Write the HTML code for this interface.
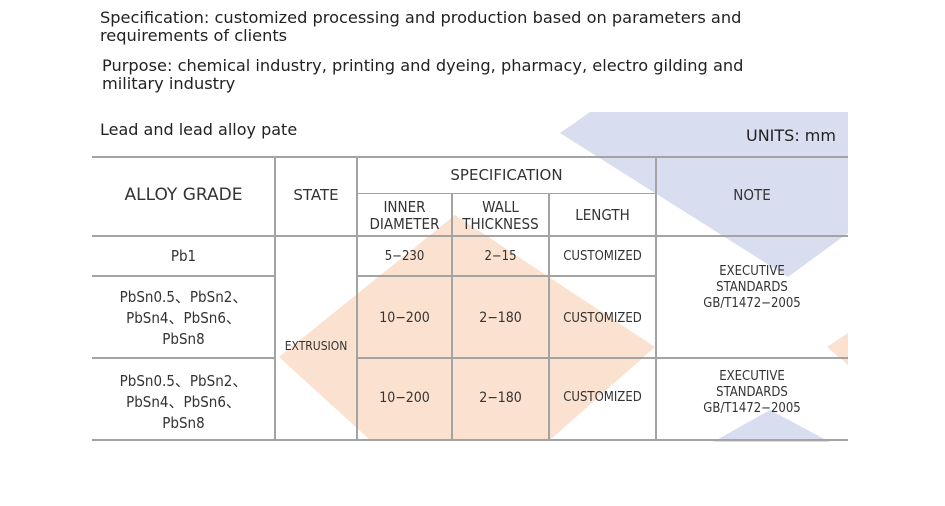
<!DOCTYPE html>
<html><head><style>
body{margin:0;width:945px;height:506px;background:#fff;overflow:hidden;position:relative;font-family:"Liberation Sans","DejaVu Sans",sans-serif;color:#222}
.t{position:absolute;white-space:nowrap}
.c{position:absolute;text-align:center;font-size:13px;line-height:17px;color:#333;font-family:"DejaVu Sans Condensed","Liberation Sans",sans-serif}
.hl{position:absolute;height:2px;background:#a3a3a3}
.vl{position:absolute;width:2px;background:#a3a3a3}
</style></head><body>
<svg width="945" height="506" style="position:absolute;left:0;top:0">
<polygon points="590,112 848,112 848,233 788,277 560,133" fill="#d8ddef"/>
<polygon points="713,442 830,442 770,410" fill="#d8ddef"/>
<polygon points="455,215 655,347 550,440 370,440 279,357" fill="#fbe1cf"/>
<polygon points="848,333 827,347 848,365" fill="#fbe1cf"/>
</svg>
<div class="t" style="left:100px;top:9px;font-size:16.2px;line-height:18px;font-family:'DejaVu Sans',sans-serif">Specification: customized processing and production based on parameters and<br>requirements of clients</div>
<div class="t" style="left:102px;top:57px;font-size:16.2px;line-height:18px;font-family:'DejaVu Sans',sans-serif">Purpose: chemical industry, printing and dyeing, pharmacy, electro gilding and<br>military industry</div>
<div class="t" style="left:100px;top:120px;font-size:16px;font-family:'DejaVu Sans',sans-serif">Lead and lead alloy pate</div>
<div class="t" style="left:746px;top:126px;font-size:16px;font-family:'DejaVu Sans',sans-serif">UNITS: mm</div>

<div class="hl" style="left:92px;width:756px;top:156px"></div>
<div class="hl" style="left:357px;width:299px;top:193px;height:1px"></div>
<div class="hl" style="left:92px;width:756px;top:235px"></div>
<div class="hl" style="left:92px;width:183px;top:275px"></div>
<div class="hl" style="left:357px;width:299px;top:275px"></div>
<div class="hl" style="left:92px;width:183px;top:357px"></div>
<div class="hl" style="left:357px;width:491px;top:357px"></div>
<div class="hl" style="left:92px;width:756px;top:439px"></div>
<div class="vl" style="left:274px;top:157px;height:283px"></div>
<div class="vl" style="left:356px;top:157px;height:283px"></div>
<div class="vl" style="left:451px;top:194px;height:246px"></div>
<div class="vl" style="left:548px;top:194px;height:246px"></div>
<div class="vl" style="left:655px;top:157px;height:283px"></div>

<div class="c" style="left:92px;width:183px;top:187px;font-size:17px;font-family:'DejaVu Sans',sans-serif">ALLOY GRADE</div>
<div class="c" style="left:275px;width:82px;top:187px;font-size:15px;font-family:'DejaVu Sans',sans-serif">STATE</div>
<div class="c" style="left:357px;width:299px;top:167px;font-size:15px;font-family:'DejaVu Sans',sans-serif">SPECIFICATION</div>
<div class="c" style="left:357px;width:95px;top:199px;font-size:15px">INNER<br>DIAMETER</div>
<div class="c" style="left:452px;width:97px;top:199px;font-size:15px">WALL<br>THICKNESS</div>
<div class="c" style="left:549px;width:107px;top:207px;font-size:15px">LENGTH</div>
<div class="c" style="left:656px;width:192px;top:187px;font-size:15px">NOTE</div>

<div class="c" style="left:92px;width:183px;top:248px;font-size:15px">Pb1</div>
<div class="c" style="left:357px;width:95px;top:248px">5−230</div>
<div class="c" style="left:452px;width:97px;top:248px">2−15</div>
<div class="c" style="left:549px;width:107px;top:248px">CUSTOMIZED</div>

<div class="c" style="left:92px;width:183px;top:287px;font-size:15px;line-height:21px">PbSn0.5、PbSn2、<br>PbSn4、PbSn6、<br>PbSn8</div>
<div class="c" style="left:357px;width:95px;top:310px;font-size:14px">10−200</div>
<div class="c" style="left:452px;width:97px;top:310px;font-size:14px">2−180</div>
<div class="c" style="left:549px;width:107px;top:310px">CUSTOMIZED</div>
<div class="c" style="left:275px;width:82px;top:338px;font-size:12px">EXTRUSION</div>
<div class="c" style="left:656px;width:192px;top:264px;font-size:13px;line-height:16px">EXECUTIVE<br>STANDARDS<br>GB/T1472−2005</div>

<div class="c" style="left:92px;width:183px;top:371px;font-size:15px;line-height:21px">PbSn0.5、PbSn2、<br>PbSn4、PbSn6、<br>PbSn8</div>
<div class="c" style="left:357px;width:95px;top:390px;font-size:14px">10−200</div>
<div class="c" style="left:452px;width:97px;top:390px;font-size:14px">2−180</div>
<div class="c" style="left:549px;width:107px;top:389px">CUSTOMIZED</div>
<div class="c" style="left:656px;width:192px;top:369px;font-size:13px;line-height:16px">EXECUTIVE<br>STANDARDS<br>GB/T1472−2005</div>
</body></html>
